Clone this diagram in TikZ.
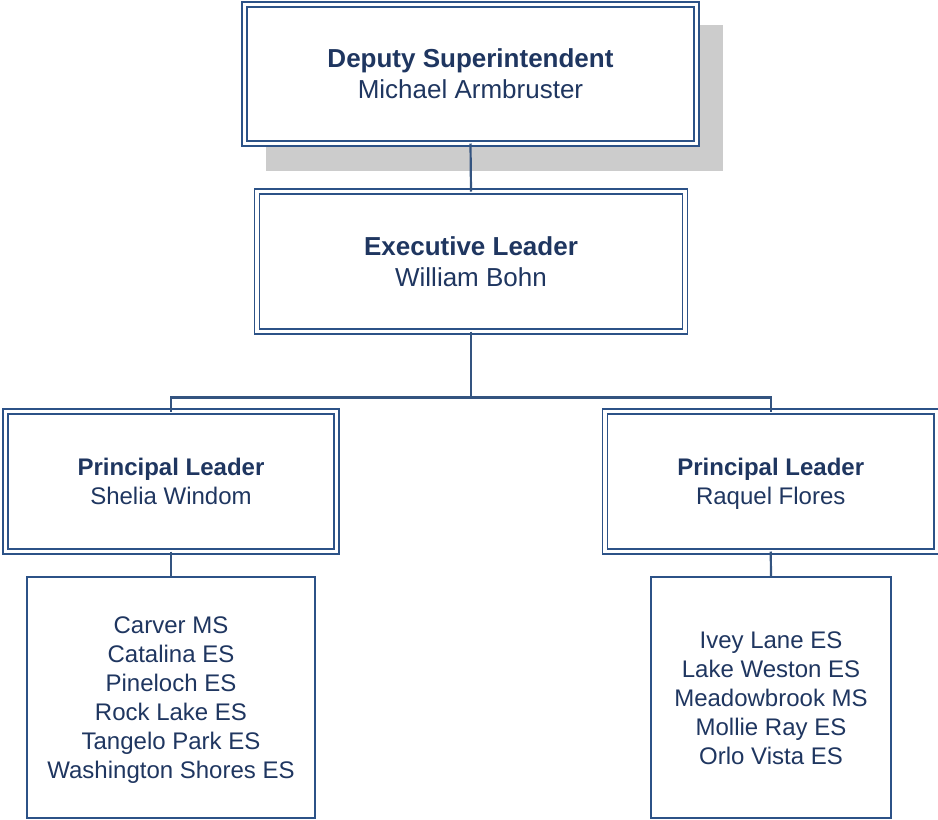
\documentclass[tikz,border=0pt]{standalone}
\usepackage{fontspec}
\setmainfont{Liberation Sans}
\definecolor{bordercol}{RGB}{44,82,135}
\definecolor{linecol}{RGB}{52,84,128}
\definecolor{textcol}{RGB}{31,54,96}
\definecolor{shadowcol}{RGB}{204,204,204}
\begin{document}
\begin{tikzpicture}[x=1pt,y=-1pt,
  dblbox/.style={draw=bordercol, double=white, double distance=3.2pt, line width=1.8pt,
    fill=white, rectangle, inner sep=0pt, outer sep=0pt},
  txt/.style={align=center, text=textcol, inner sep=0pt, outer sep=0pt},
  bigtext/.style={font=\fontsize{26}{31}\selectfont},
  midtext/.style={font=\fontsize{24}{29}\selectfont},
  schoolbox/.style={draw=bordercol, line width=2pt, fill=white, rectangle,
    inner sep=0pt, outer sep=0pt},
  conn/.style={draw=linecol, line width=2.2pt}]
\useasboundingbox (0,0) rectangle (938,820);
\fill[shadowcol] (266,25) rectangle (723,171);
\node[dblbox, minimum width=452pt, minimum height=139pt] (dep) at (470.5,74) {};
\node[txt, bigtext] (deptext) at ([yshift=-3pt]dep.center)
  {\strut\textbf{Deputy Superintendent}\\Michael Armbruster\strut};
\node[dblbox, minimum width=428pt, minimum height=140pt] (exec) at (471,261.5) {};
\node[txt, bigtext] (exectext) at ([yshift=-3pt]exec.center)
  {\strut\textbf{Executive Leader}\\William Bohn\strut};
\node[dblbox, minimum width=331pt, minimum height=140pt] (pl1) at (171,481.5) {};
\node[txt, midtext] (pl1text) at ([yshift=-3pt]pl1.center)
  {\strut\textbf{Principal Leader}\\Shelia Windom\strut};
\node[dblbox, minimum width=331.5pt, minimum height=140pt] (pl2) at (770.75,481.5) {};
\node[txt, midtext] (pl2text) at ([yshift=-3pt]pl2.center)
  {\strut\textbf{Principal Leader}\\Raquel Flores\strut};
\node[schoolbox, minimum width=288pt, minimum height=241pt] (sc1) at (171,697.5) {};
\node[txt, midtext] (sc1text) at ([yshift=-3pt]sc1.center)
  {\strut Carver MS\\Catalina ES\\Pineloch ES\\Rock Lake ES\\Tangelo Park ES\\Washington Shores ES\strut};
\node[schoolbox, minimum width=240pt, minimum height=241pt] (sc2) at (771,697.5) {};
\node[txt, midtext] (sc2text) at ([yshift=-3pt]sc2.center)
  {\strut Ivey Lane ES\\Lake Weston ES\\Meadowbrook MS\\Mollie Ray ES\\Orlo Vista ES\strut};
\coordinate (bus) at (471,397.5);
\draw[conn] (dep.south) -- (exec.north);
\draw[conn] (exec.south) -- (bus) -| (pl1.north);
\draw[conn] (bus) -| (pl2.north);
\draw[conn] (pl1.south) -- (sc1.north);
\draw[conn] (pl2.south) -- (sc2.north);
\end{tikzpicture}
\end{document}
